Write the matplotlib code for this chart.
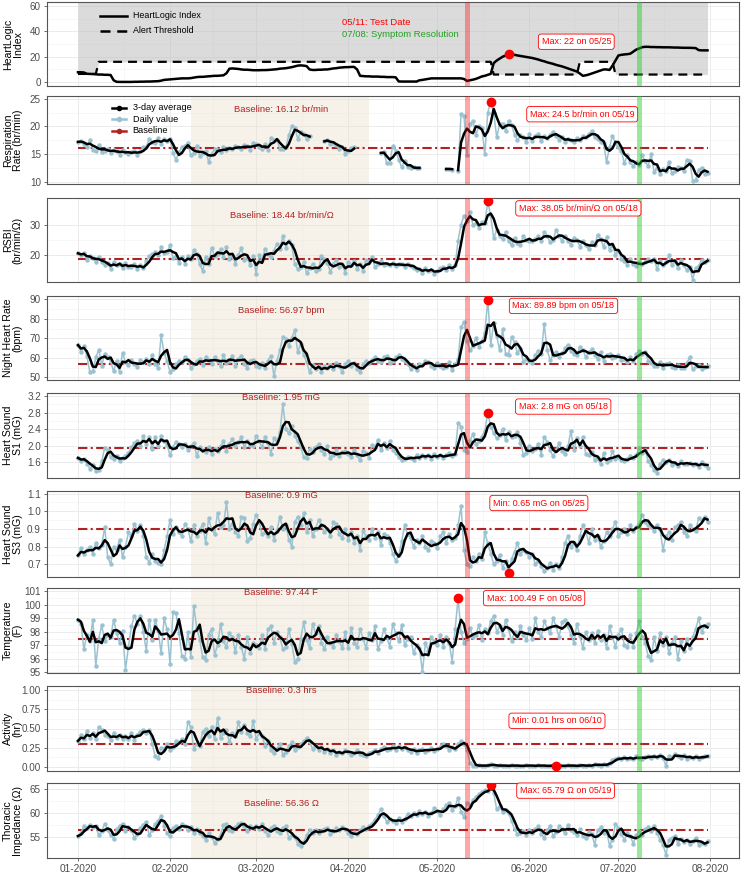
import numpy as np
import pandas as pd
import matplotlib
matplotlib.use("Agg")
import matplotlib.pyplot as plt
import matplotlib.dates as mdates
from matplotlib.lines import Line2D
from matplotlib.ticker import FixedLocator, FormatStrFormatter

plt.rcParams['font.family'] = ['Liberation Sans', 'DejaVu Sans']

# one value per day, 2020-01-01 .. 2020-07-31
dates = pd.date_range('2020-01-01', '2020-07-31', freq='D')
nan = np.nan

# HeartLogic index and alert threshold (top panel)
heartlogic = [
    7.8, 7.8, 7.6, 6.6, 6.5, 6.4, 6.2, 6.0, 6.0, 5.8, 5.8, 5.6, 1.5, 0.3, 0.2, 0.2, 0.2, 0.2, 0.2, 0.3,
    0.3, 0.4, 0.4, 0.5, 0.5, 0.6, 0.7, 0.8, 1.2, 1.8, 2.0,
    2.2, 2.4, 2.6, 2.8, 3.0, 3.0, 3.0, 3.2, 3.6, 4.0, 4.2, 4.2, 4.4, 4.6, 4.8, 5.0, 5.0, 5.2, 5.4, 7.0,
    10.6, 10.8, 10.6, 10.4, 10.0, 9.8, 9.8, 9.6, 9.4,
    9.4, 9.4, 9.5, 9.5, 9.6, 9.8, 10.0, 10.2, 10.6, 10.8, 11.0, 11.4, 11.8, 12.4, 13.0, 13.2, 13.0, 12.6,
    10.0, 9.6, 9.6, 9.8, 9.8, 10.0, 10.0, 10.4, 10.8, 11.0, 11.4, 11.6, 11.8,
    11.8, 12.0, 12.0, 10.0, 5.0, 4.8, 4.6, 4.6, 4.4, 4.4, 4.4, 4.2, 4.2, 4.0, 4.0, 4.0, 3.8, 0.6, 0.5, 0.5,
    0.5, 0.5, 0.5, 0.5, 1.5, 1.8, 2.2, 2.6, 3.0, 3.0,
    3.0, 3.0, 3.0, 3.0, 3.0, 3.0, 3.0, 3.0, 3.0, 2.5, 1.0, 1.5, 2.0, 2.6, 3.5, 4.5, 5.0, 5.8, 6.5, 15.0,
    17.0, 18.5, 20.0, 21.0, 22.0, 21.8, 21.5, 21.0, 20.6, 20.2, 19.8,
    19.4, 19.0, 18.4, 17.8, 17.0, 16.4, 15.6, 15.0, 14.4, 13.6, 13.0, 12.4, 11.6, 10.8, 10.0, 9.2, 8.4, 6.8,
    5.0, 5.4, 6.0, 6.8, 7.6, 8.4, 9.2, 10.0, 10.0, 9.6, 13.0, 17.0,
    21.0, 21.5, 21.8, 22.0, 22.4, 24.0, 25.6, 26.5, 27.5, 27.8, 27.8, 27.6, 27.6, 27.5, 27.5, 27.4, 27.4,
    27.4, 27.3, 27.2, 27.2, 27.1, 27.0, 27.0, 27.0, 26.9, 26.8, 25.2, 25.0, 25.0, 25.0,
]
threshold_levels = [6.5, 16, 6, 16, 6]
threshold_days = [7, 133, 29, 12, 32]

resp = [
    17.2, 17.3, 16.8, 16.3, 17.5, 15.8, 15.5, 16.6, 15.4, 15.6, 16.0, 15.1, 15.7, 15.6, 14.9, 15.7, 15.3,
    15.0, 15.4, 15.5, 14.9, 15.6, 16.2, 16.3, 17.8, 17.2, 17.0, 17.9, 16.8, 17.8, 17.4,
    17.8, 15.2, 14.0, 15.3, 16.3, 16.5, 17.0, 14.8, 15.2, 16.4, 14.6, 15.1, 15.6, 13.6, 15.0, 15.9, 15.7,
    15.4, 16.2, 15.8, 16.1, 15.9, 16.4, 16.3, 15.9, 16.7, 16.4, 15.8, 17.0,
    16.8, 16.2, 16.0, 16.9, 15.8, 17.9, 17.6, 17.6, 15.9, 15.9, 16.2, 18.4, 20.0, 19.8, 17.8, 18.9, 18.6,
    17.7, 18.2, nan, nan, nan, nan, 17.3, 17.6, 16.8, 17.0, 16.6, 15.9, 16.3, 15.0,
    15.6, 16.1, 16.3, nan, nan, nan, nan, nan, nan, nan, nan, 15.2, 15.3, 13.3, 13.4, 16.5, 15.5, 14.0,
    12.6, 13.8, 12.6, 12.5, 12.6, 12.4, 12.5, nan, nan, nan, nan, nan,
    nan, nan, nan, 12.3, 12.3, 12.2, nan, 12.0, 22.2, 21.8, 14.8, 20.5, 21.0, 18.5, 20.0, 19.8, 15.0,
    22.5, 24.5, 22.5, 18.0, 20.5, 20.5, 19.2, 21.0, 20.3, 18.5, 17.5, 18.4, 18.0, 17.2,
    18.6, 17.4, 18.3, 18.6, 17.3, 18.2, 17.9, 18.5, 19.0, 18.3, 17.6, 18.0, 17.2, 17.8, 17.5, 17.1, 17.9,
    17.6, 18.2, 18.0, 18.6, 19.2, 18.0, 17.8, 17.2, 17.0, 13.5, 16.3, 18.3, 17.0,
    16.2, 15.5, 13.3, 14.8, 13.5, 12.8, 13.6, 13.0, 14.8, 13.7, 12.8, 15.0, 11.8, 12.5, 11.4, 12.3, 12.0,
    13.6, 11.5, 12.0, 12.6, 12.4, 12.0, 14.0, 13.8, 10.2, 10.3, 12.2, 12.5, 11.4, 11.5,
]

rsbi = [
    20.5, 19.8, 20.6, 18.2, 19.5, 18.8, 17.6, 19.2, 17.4, 16.5, 17.3, 15.2, 17.6, 16.4, 17.0, 15.4, 17.2,
    16.0, 15.8, 16.9, 15.2, 16.4, 15.6, 17.8, 19.6, 20.2, 21.0, 19.8, 22.5, 20.6, 20.8,
    23.2, 18.8, 19.6, 17.2, 19.4, 17.0, 19.6, 18.6, 21.5, 20.4, 16.8, 14.6, 19.2, 17.0, 22.4, 19.6, 20.3,
    21.8, 19.2, 22.6, 18.6, 19.8, 17.0, 19.9, 22.2, 18.4, 19.0, 16.4, 19.6,
    13.6, 19.8, 18.4, 22.0, 20.2, 19.4, 21.4, 23.8, 22.0, 26.4, 22.4, 24.6, 23.2, 16.8, 15.2, 15.8, 17.6,
    13.8, 15.6, 16.8, 14.6, 15.2, 19.6, 18.6, 17.2, 14.2, 16.8, 18.4, 15.8, 16.6, 14.0,
    17.6, 16.4, 17.8, 15.2, 17.0, 14.6, 18.4, 17.6, 19.2, 15.8, 17.0, 17.8, 16.4, 17.0, 16.6, 17.2, 16.2,
    16.8, 17.0, 15.8, 17.0, 16.2, 15.4, 14.8, 15.2, 13.8, 15.6, 14.4, 15.0, 13.6,
    14.6, 15.4, 15.8, 14.8, 16.6, 15.2, 16.4, 24.8, 30.2, 33.2, 31.4, 34.4, 30.2, 30.6, 29.2, 31.2, 30.8,
    38.05, 33.0, 25.6, 28.4, 26.4, 25.2, 27.8, 24.6, 23.2, 25.8, 24.0, 23.4, 26.4, 25.0,
    24.8, 24.6, 25.4, 26.2, 24.6, 27.8, 26.4, 24.2, 25.0, 28.4, 26.2, 24.8, 26.4, 24.6, 23.4, 25.8, 25.0,
    22.8, 24.6, 23.2, 21.8, 24.4, 23.2, 26.8, 25.2, 22.6, 26.0, 21.6, 23.4, 20.0,
    21.4, 18.6, 17.8, 16.6, 18.6, 17.0, 16.2, 17.6, 16.8, 17.4, 18.6, 17.8, 18.6, 15.2, 18.0, 16.4, 17.4,
    19.8, 16.6, 17.8, 15.6, 18.2, 16.6, 14.8, 16.0, 11.6, 15.6, 16.2, 18.4, 17.4, 18.2,
]

night_hr = [
    66.5, 63.0, 65.8, 61.0, 52.5, 53.0, 60.2, 64.2, 56.0, 61.8, 60.4, 58.2, 53.0, 58.6, 52.8, 62.6, 57.6,
    56.2, 58.8, 57.0, 55.2, 58.8, 57.6, 59.6, 56.8, 61.6, 57.0, 54.6, 71.5, 62.4, 58.2,
    52.8, 54.2, 56.6, 58.4, 57.8, 60.2, 59.0, 54.6, 56.8, 58.2, 59.4, 56.4, 60.2, 58.8, 57.0, 60.6, 58.2,
    56.0, 61.2, 57.4, 58.6, 60.8, 56.0, 59.4, 61.0, 56.8, 55.0, 58.6, 59.0,
    56.0, 55.2, 57.4, 54.8, 58.6, 61.0, 50.5, 58.4, 64.0, 70.8, 69.6, 66.2, 70.4, 74.0, 63.0, 67.2, 61.4,
    57.8, 52.6, 56.4, 54.0, 55.8, 52.8, 55.6, 54.8, 56.2, 54.4, 57.2, 55.6, 52.6, 56.6,
    58.2, 56.0, 57.4, 54.0, 52.8, 56.8, 58.6, 57.2, 59.0, 60.6, 58.4, 57.6, 60.2, 61.0, 57.2, 58.6, 60.4,
    61.2, 59.4, 58.2, 56.6, 54.2, 55.8, 53.8, 57.0, 56.4, 58.2, 57.8, 55.6, 54.6,
    57.2, 56.0, 54.8, 55.4, 57.8, 53.6, 56.6, 59.2, 75.8, 78.5, 68.6, 63.8, 66.2, 70.4, 65.6, 68.4, 72.6,
    89.89, 66.4, 78.0, 71.2, 63.8, 74.6, 62.0, 61.4, 70.8, 68.0, 62.4, 64.6, 57.8, 59.6,
    58.2, 57.4, 61.6, 63.4, 61.8, 77.4, 64.0, 58.8, 61.4, 63.2, 60.6, 62.4, 64.8, 66.8, 63.6, 62.0, 61.4,
    65.6, 64.2, 60.2, 62.8, 64.4, 61.2, 59.4, 62.8, 58.6, 61.2, 62.0, 59.8, 60.4,
    61.4, 58.8, 59.6, 57.6, 60.2, 58.4, 62.0, 63.4, 61.8, 62.8, 58.6, 57.4, 56.0, 55.8, 57.6, 54.6, 56.8,
    57.4, 55.2, 54.8, 56.4, 55.0, 54.6, 57.2, 60.4, 54.0, 55.6, 56.2, 54.4, 55.2, 56.0,
]

s1 = [
    1.70, 1.62, 1.68, 1.56, 1.44, 1.52, 1.38, 1.40, 1.62, 1.95, 1.88, 1.72, 1.68, 1.75, 1.62, 1.70, 1.74,
    1.82, 1.96, 2.06, 2.12, 1.98, 2.24, 2.04, 2.20, 1.92, 2.22, 1.98, 2.24, 2.10, 2.02,
    1.76, 1.96, 2.08, 2.04, 1.96, 2.04, 1.90, 1.98, 2.06, 1.74, 1.96, 1.88, 1.84, 1.96, 1.80, 1.92, 1.86,
    1.98, 2.10, 1.86, 2.04, 2.16, 1.98, 2.08, 2.20, 1.96, 2.12, 2.02, 1.98,
    2.24, 2.10, 1.96, 2.22, 2.06, 1.80, 2.18, 2.10, 2.32, 3.00, 2.40, 2.30, 2.48, 2.24, 2.10, 1.96, 1.72,
    1.70, 1.92, 1.84, 1.96, 2.04, 1.88, 1.80, 1.98, 1.70, 1.78, 1.88, 1.74, 1.84, 1.86,
    1.80, 1.72, 1.90, 1.76, 1.64, 1.86, 1.82, 1.70, 2.02, 1.96, 2.14, 1.88, 2.06, 1.94, 2.10, 1.90, 1.82,
    1.72, 1.64, 1.68, 1.72, 1.70, 1.66, 1.76, 1.70, 1.78, 1.72, 1.76, 1.68, 1.80,
    1.72, 1.78, 1.70, 1.76, 1.82, 1.74, 1.80, 2.55, 2.46, 1.90, 1.84, 2.12, 2.28, 2.04, 2.10, 2.22, 2.36,
    2.80, 2.46, 2.30, 2.18, 2.26, 2.40, 2.14, 2.34, 2.20, 2.24, 2.34, 2.06, 1.78, 1.82,
    2.00, 1.86, 1.92, 2.04, 1.78, 2.22, 2.08, 1.88, 1.74, 1.90, 2.06, 1.86, 1.80, 1.98, 2.36, 1.88, 2.18,
    1.98, 2.20, 1.80, 1.76, 1.84, 1.66, 1.70, 1.54, 1.82, 1.60, 1.64, 1.86, 1.68,
    1.72, 1.64, 1.62, 1.68, 1.74, 1.70, 1.78, 1.94, 1.82, 1.90, 1.62, 1.52, 1.40, 1.34, 1.56, 1.64, 1.60,
    1.66, 1.52, 1.58, 1.50, 1.62, 1.56, 1.54, 1.58, 1.52, 1.56, 1.48, 1.60, 1.52, 1.46,
]

s3 = [
    0.75, 0.79, 0.76, 0.78, 0.80, 0.76, 0.82, 0.79, 0.81, 0.91, 0.74, 0.70, 0.80, 0.78, 0.84, 0.74, 0.80,
    0.88, 0.86, 0.93, 0.89, 0.92, 0.86, 0.74, 0.71, 0.76, 0.72, 0.71, 0.70, 0.78, 0.86,
    0.95, 0.87, 0.91, 0.88, 0.86, 0.93, 0.90, 0.83, 0.92, 0.86, 0.89, 0.93, 0.82, 0.96, 0.90, 0.87, 0.99,
    0.91, 0.92, 1.05, 0.90, 0.93, 0.88, 0.86, 0.97, 0.96, 0.83, 0.85, 0.93,
    0.98, 0.94, 0.87, 0.88, 0.86, 0.91, 0.84, 0.89, 0.97, 0.90, 0.92, 0.84, 0.80, 0.94, 0.97, 0.92, 0.99,
    0.88, 0.95, 0.86, 0.90, 0.95, 0.92, 0.88, 0.90, 0.86, 0.94, 0.93, 0.87, 0.85, 0.90,
    0.84, 0.88, 0.82, 0.86, 0.78, 0.89, 0.86, 0.84, 0.90, 0.85, 0.88, 0.81, 0.87, 0.86, 0.82, 0.76, 0.72,
    0.75, 0.83, 0.92, 0.87, 0.85, 0.80, 0.84, 0.82, 0.86, 0.80, 0.78, 0.83, 0.82,
    0.79, 0.86, 0.88, 0.82, 0.87, 0.84, 0.85, 0.92, 1.03, 0.78, 0.70, 0.69, 0.74, 0.72, 0.76, 0.73, 0.88,
    0.82, 0.76, 0.70, 0.72, 0.75, 0.68, 0.72, 0.65, 0.73, 0.77, 0.82, 0.76, 0.78, 0.77,
    0.74, 0.76, 0.70, 0.72, 0.69, 0.66, 0.68, 0.71, 0.67, 0.70, 0.68, 0.74, 0.82, 0.86, 0.80, 0.82, 0.78,
    0.86, 0.92, 0.89, 0.82, 0.90, 0.84, 0.86, 0.80, 0.83, 0.88, 0.86, 0.90, 0.94,
    0.86, 0.88, 0.90, 0.87, 0.92, 0.89, 0.91, 0.93, 0.98, 0.94, 0.92, 0.91, 0.89, 0.92, 0.90, 0.78, 0.86,
    0.88, 0.84, 0.91, 0.92, 0.94, 0.88, 0.86, 0.92, 0.90, 0.89, 0.96, 0.95, 0.97, 0.94,
]

temperature = [
    98.9, 98.6, 96.7, 97.8, 97.3, 98.9, 95.5, 97.5, 98.5, 97.3, 97.8, 97.6, 98.9, 97.9, 97.2, 98.1, 95.2,
    96.9, 98.4, 99.2, 98.6, 99.2, 98.0, 96.6, 98.9, 97.4, 98.9, 98.1, 96.4, 99.0, 98.2,
    95.6, 99.5, 99.4, 97.9, 96.2, 96.0, 98.0, 96.1, 99.9, 98.3, 97.4, 96.1, 95.9, 97.8, 98.2, 96.3, 97.0,
    98.6, 97.3, 96.9, 97.9, 97.6, 96.5, 97.8, 96.9, 96.0, 97.6, 96.4, 97.2,
    97.0, 96.8, 97.8, 96.7, 98.2, 98.4, 97.2, 98.0, 97.6, 96.7, 96.9, 98.2, 97.1, 95.8, 96.0, 97.5, 98.7,
    97.4, 96.8, 98.6, 97.9, 98.4, 97.2, 96.7, 97.6, 97.2, 96.9, 97.8, 97.3, 96.8, 98.0,
    96.8, 98.3, 97.2, 96.9, 98.2, 97.5, 96.8, 97.9, 97.4, 98.4, 96.7, 97.3, 98.2, 97.6, 96.9, 98.6, 97.9,
    97.3, 98.5, 97.0, 97.5, 97.6, 96.4, 97.0, 96.8, 95.0, 97.2, 96.6, 97.6, 97.3,
    97.0, 97.8, 96.9, 97.6, 97.2, 95.8, 98.2, 100.49, 98.0, 97.2, 97.5, 98.3, 97.6, 97.8, 98.5, 97.4, 98.2,
    97.9, 98.8, 99.2, 98.0, 98.4, 97.8, 98.9, 98.2, 97.3, 98.0, 97.6, 98.4, 97.8, 97.4,
    98.3, 97.5, 99.0, 98.0, 97.6, 98.8, 98.3, 97.9, 99.0, 98.4, 97.6, 98.7, 98.9, 98.4, 97.8, 97.2, 98.6,
    97.7, 96.8, 98.0, 97.4, 97.9, 97.2, 98.1, 97.4, 97.8, 96.8, 98.4, 97.6, 96.9,
    97.8, 98.2, 97.0, 96.9, 97.8, 96.9, 97.9, 98.8, 97.6, 97.2, 96.2, 95.9, 97.6, 96.6, 97.9, 97.0, 97.6,
    96.4, 97.2, 97.6, 96.0, 97.3, 96.6, 97.5, 96.8, 97.6, 98.2, 99.0, 98.0, 98.4, 98.6,
]

activity = [
    0.34, 0.42, 0.36, 0.47, 0.38, 0.44, 0.36, 0.52, 0.48, 0.42, 0.40, 0.35, 0.44, 0.38, 0.42, 0.36, 0.40,
    0.37, 0.44, 0.35, 0.42, 0.46, 0.48, 0.44, 0.48, 0.30, 0.14, 0.12, 0.25, 0.24, 0.30,
    0.22, 0.26, 0.34, 0.32, 0.36, 0.30, 0.58, 0.52, 0.24, 0.30, 0.28, 0.46, 0.50, 0.40, 0.52, 0.36, 0.64,
    0.38, 0.44, 0.48, 0.32, 0.44, 0.40, 0.58, 0.46, 0.54, 0.44, 0.40, 0.60,
    0.36, 0.44, 0.40, 0.28, 0.34, 0.22, 0.18, 0.24, 0.30, 0.16, 0.20, 0.28, 0.32, 0.22, 0.26, 0.30, 0.34,
    0.38, 0.32, 0.24, 0.28, 0.22, 0.26, 0.20, 0.24, 0.18, 0.22, 0.16, 0.20, 0.18, 0.22,
    0.20, 0.16, 0.18, 0.22, 0.17, 0.16, 0.14, 0.18, 0.20, 0.22, 0.18, 0.24, 0.26, 0.22, 0.24, 0.28, 0.22,
    0.27, 0.24, 0.26, 0.22, 0.20, 0.24, 0.18, 0.22, 0.24, 0.20, 0.22, 0.25, 0.21,
    0.24, 0.26, 0.30, 0.28, 0.22, 0.26, 0.24, 0.30, 0.34, 0.30, 0.22, 0.06, 0.02, 0.01, 0.03, 0.02, 0.01,
    0.03, 0.04, 0.02, 0.01, 0.03, 0.02, 0.01, 0.02, 0.03, 0.01, 0.02, 0.02, 0.01, 0.03,
    0.02, 0.01, 0.02, 0.03, 0.01, 0.02, 0.02, 0.01, 0.03, 0.01, 0.02, 0.02, 0.01, 0.03, 0.02, 0.01, 0.02,
    0.03, 0.02, 0.01, 0.03, 0.02, 0.04, 0.03, 0.02, 0.04, 0.03, 0.06, 0.09, 0.11,
    0.12, 0.10, 0.13, 0.11, 0.12, 0.10, 0.14, 0.12, 0.11, 0.13, 0.15, 0.12, 0.14, 0.13, 0.16, 0.12, 0.02,
    0.15, 0.13, 0.17, 0.14, 0.12, 0.16, 0.11, 0.13, 0.12, 0.14, 0.11, 0.13, 0.15, 0.14,
]

impedance = [
    55.2, 55.8, 57.4, 56.8, 57.6, 57.0, 57.2, 55.4, 56.2, 57.8, 56.4, 55.4, 54.6, 56.6, 57.4, 57.8, 56.2,
    57.0, 56.4, 54.8, 55.6, 56.8, 57.6, 58.2, 55.4, 56.4, 57.8, 58.4, 59.4, 57.2, 55.8,
    55.2, 56.8, 57.4, 56.6, 57.8, 57.2, 56.4, 57.0, 55.8, 56.6, 55.8, 55.2, 54.4, 55.8, 55.0, 53.8, 54.6,
    55.4, 57.6, 57.8, 56.4, 56.2, 57.0, 57.8, 58.0, 57.4, 56.2, 57.2, 56.8,
    57.4, 56.6, 57.8, 56.2, 55.4, 56.8, 57.4, 56.2, 55.8, 56.8, 57.2, 54.8, 55.4, 55.0, 53.6, 53.2, 54.0,
    55.4, 56.4, 55.8, 56.4, 55.8, 56.2, 56.6, 56.8, 55.6, 56.2, 56.8, 56.4, 57.0, 56.6,
    55.8, 55.2, 56.0, 55.6, 56.4, 57.0, 56.6, 57.2, 57.8, 58.6, 59.6, 60.8, 59.4, 58.2, 58.8, 58.4, 58.0,
    59.0, 58.2, 58.8, 59.8, 59.4, 60.0, 59.6, 60.4, 59.8, 60.2, 59.4, 60.0, 61.0,
    60.4, 59.6, 60.8, 61.6, 62.2, 60.6, 61.4, 63.2, 60.2, 59.2, 62.2, 61.6, 62.8, 63.4, 64.0, 64.4, 64.8,
    64.6, 65.79, 64.2, 60.8, 61.4, 60.2, 60.6, 60.0, 58.4, 56.6, 55.6, 55.8, 56.2, 55.4,
    56.4, 55.8, 56.6, 57.2, 55.6, 54.8, 56.4, 57.4, 55.2, 56.0, 57.2, 56.6, 55.8, 57.6, 56.4, 56.0, 55.4,
    56.6, 55.2, 54.8, 56.0, 55.6, 53.4, 56.4, 57.0, 55.8, 56.2, 53.2, 54.4, 57.8,
    56.8, 55.6, 54.4, 55.8, 55.2, 53.6, 55.4, 56.2, 55.4, 56.6, 57.0, 56.2, 57.4, 55.8, 54.4, 53.4, 51.3,
    54.4, 54.8, 55.2, 53.6, 54.6, 54.0, 54.4, 53.6, 54.2, 54.8, 53.4, 53.8, 53.6, 54.2,
]

# baselines, extremes, labels
baselines = [16.12, 18.44, 56.97, 1.95, 0.9, 97.44, 0.3, 56.36]
baseline_units = ['br/min', 'br/min/Ω', 'bpm', 'mG', 'mG', 'F', 'hrs', 'Ω']
extreme_dates = ['2020-05-19', '2020-05-18', '2020-05-18', '2020-05-18', '2020-05-25', '2020-05-08',
                 '2020-06-10', '2020-05-19']
extreme_values = [24.5, 38.05, 89.89, 2.8, 0.65, 100.49, 0.01, 65.79]
extreme_kind = ['Max', 'Max', 'Max', 'Max', 'Min', 'Max', 'Min', 'Max']
ylabels = ['Respiration\nRate (br/min)', 'RSBI\n(br/min/Ω)', 'Night Heart Rate\n(bpm)',
           'Heart Sound\nS1 (mG)', 'Heart Sound\nS3 (mG)', 'Temperature\n(F)', 'Activity\n(hr)',
           'Thoracic\nImpedance (Ω)']
series = [resp, rsbi, night_hr, s1, s3, temperature, activity, impedance]

test_date = pd.Timestamp('2020-05-11')
resolution_date = pd.Timestamp('2020-07-08')
baseline_start = pd.Timestamp('2020-02-08')
baseline_end = pd.Timestamp('2020-04-08')

# ---- layout ----
W, H = 742, 876
fig = plt.figure(figsize=(W / 100, H / 100), dpi=100)
x_left, x_right = 46.5, 739
panels_px = [(2, 86), (96, 184), (198, 282), (296, 380), (393, 478), (491, 577), (588, 673),
             (686, 771), (783, 858)]
ylims = [(-3, 63), (9.58, 25.5), (10.8, 39.2), (48.6, 91.7), (1.21, 3.28), (0.628, 1.115),
         (94.95, 101.25), (-0.05, 1.05), (50.6, 66.3)]
yticks = [[0, 20, 40, 60], [10, 15, 20, 25], [20, 30], [50, 60, 70, 80, 90], [1.6, 2.0, 2.4, 2.8, 3.2],
          [0.7, 0.8, 0.9, 1.0, 1.1], [95, 96, 97, 98, 99, 100, 101], [0.0, 0.25, 0.5, 0.75, 1.0],
          [55, 60, 65]]
yfmts = ['%d', '%d', '%d', '%d', '%.1f', '%.1f', '%d', '%.2f', '%d']

# label positions (day offset from 01-01, value)
baseline_text_y = [23.0, 33.4, 84.5, 3.17, 1.09, 100.9, 0.99, 62.1]
box_pos = [(169.8, 22.2), (168.5, 35.7), (163.5, 86.6), (163.4, 2.95), (155.2, 1.047), (153.6, 100.5),
           (161.3, 0.6), (164.2, 64.7)]

BLUE = '#9BC2D1'
FIREBRICK = '#B22222'
pad = pd.Timedelta(days=10.6)
month_starts = pd.date_range('2020-01-01', '2020-08-01', freq='MS')
minor_ticks = [month_starts[i] + (month_starts[i + 1] - month_starts[i]) / 2 for i in range(len(month_starts) - 1)]
start = dates[0]
YLAB_X = 13.0


def px2fig(x, y):
    return x / W, 1 - y / H


axes = []
for i, (top, bot) in enumerate(panels_px):
    ax = fig.add_axes([x_left / W, 1 - bot / H, (x_right - x_left) / W, (bot - top) / H])
    ax.set_xlim(dates[0] - pad, dates[-1] + pad)
    ax.set_ylim(*ylims[i])
    ax.yaxis.set_major_locator(FixedLocator(yticks[i]))
    ax.yaxis.set_major_formatter(FormatStrFormatter(yfmts[i]))
    mids = [(a + b) / 2 for a, b in zip(yticks[i][:-1], yticks[i][1:])]
    ax.yaxis.set_minor_locator(FixedLocator(mids))
    ax.xaxis.set_major_locator(FixedLocator(mdates.date2num(month_starts)))
    ax.xaxis.set_minor_locator(FixedLocator(mdates.date2num(minor_ticks)))
    ax.xaxis.set_major_formatter(mdates.DateFormatter('%m-%Y'))
    ax.grid(which='major', color='#EBEBEB', lw=0.7)
    ax.grid(which='minor', color='#F2F2F2', lw=0.4)
    ax.set_axisbelow(True)
    for sp in ax.spines.values():
        sp.set_color('#555555')
        sp.set_linewidth(0.8)
    ax.tick_params(axis='y', which='major', labelsize=7.1, labelcolor='#4D4D4D', color='#555555',
                   length=2.5, width=0.6, pad=1.5)
    ax.tick_params(which='minor', length=0)
    if i < 8:
        ax.tick_params(axis='x', which='major', length=0, labelbottom=False)
    else:
        ax.tick_params(axis='x', which='major', labelsize=7.3, labelcolor='#4D4D4D', color='#555555',
                       length=2.5, width=0.6, pad=1.5)
    ax.axvline(test_date, color='red', alpha=0.35, lw=3.6, zorder=5)
    ax.axvline(resolution_date, color='#22CC22', alpha=0.45, lw=3.6, zorder=5)
    axes.append(ax)

# ---- top panel: HeartLogic index ----
ax = axes[0]
threshold = np.repeat(threshold_levels, threshold_days)
ax.fill_between(dates, threshold, 63, color='#BEBEBE', alpha=0.55, lw=0, zorder=1)
ax.plot(dates, threshold, color='black', lw=1.6, dashes=(4, 2.7), zorder=3)
ax.plot(dates, heartlogic, color='black', lw=1.8, zorder=4, solid_joinstyle='round')
ax.plot(pd.Timestamp('2020-05-25'), 22, 'o', color='red', ms=6, zorder=6)
ax.text(start + pd.Timedelta(days=167.8), 31.8, 'Max: 22 on 05/25', ha='center', va='center', color='red',
        fontsize=6.5, zorder=7,
        bbox=dict(boxstyle='round,pad=0.35,rounding_size=0.3', fc='white', ec='red', lw=0.6))
ax.text(start + pd.Timedelta(days=89), 46.7, '05/11: Test Date', color='red', fontsize=6.8, va='center')
ax.text(start + pd.Timedelta(days=89), 37.6, '07/08: Symptom Resolution', color='#22A022', fontsize=6.8,
        va='center')
fig.text(YLAB_X / W, 1 - 44 / H, 'HeartLogic\nIndex', rotation=90, ha='center', va='center', fontsize=7.6,
         linespacing=0.95)

# manual legend, top panel
for y, dash in [(15.7, None), (30.7, (4, 2.7))]:
    (xa, ya), (xb, _) = px2fig(100, y), px2fig(127, y)
    ln = Line2D([xa, xb], [ya, ya], transform=fig.transFigure, color='black', lw=1.8)
    if dash:
        ln.set_dashes(dash)
    fig.add_artist(ln)
for y, lab in [(15.7, 'HeartLogic Index'), (30.7, 'Alert Threshold')]:
    fig.text(*px2fig(132.7, y), lab, fontsize=6.4, va='center')

# ---- sensor panels ----
for k in range(8):
    ax = axes[k + 1]
    daily = pd.Series(series[k], index=dates)
    avg = daily.rolling(3, min_periods=1).mean()
    avg[daily.isna()] = np.nan
    ax.axvspan(baseline_start, baseline_end, color='#EEE3D0', alpha=0.45, lw=0, zorder=1)
    ax.plot(dates, [baselines[k]] * len(dates), color=FIREBRICK, lw=1.5, dashes=(4.5, 1.6, 1, 1.6), zorder=2)
    ax.plot(dates, daily.values, color=BLUE, lw=1.1, marker='o', ms=3.2, mew=0, zorder=3)
    ax.plot(dates, avg.values, color='black', lw=1.8, zorder=4, solid_joinstyle='round')
    ax.plot(pd.Timestamp(extreme_dates[k]), extreme_values[k], 'o', color='red', ms=6, zorder=6)
    d = pd.Timestamp(extreme_dates[k])
    label = f"{extreme_kind[k]}: {extreme_values[k]:g} {baseline_units[k]} on {d:%m/%d}"
    bx, by = box_pos[k]
    ax.text(start + pd.Timedelta(days=bx), by, label, ha='center', va='center', color='red', fontsize=6.5,
            zorder=7, bbox=dict(boxstyle='round,pad=0.35,rounding_size=0.3', fc='white', ec='red', lw=0.6))
    ax.text(start + pd.Timedelta(days=68.5), baseline_text_y[k], f"Baseline: {baselines[k]:g} {baseline_units[k]}",
            ha='center', va='center', color=FIREBRICK, fontsize=6.8, zorder=7)
    top, bot = panels_px[k + 1]
    fig.text(YLAB_X / W, 1 - (top + bot) / 2 / H, ylabels[k], rotation=90, ha='center', va='center',
             fontsize=7.6, linespacing=0.95)

# manual legend, respiration panel
legend_rows = [(107.7, 'black', '3-day average'), (119.0, BLUE, 'Daily value'), (130.7, FIREBRICK, 'Baseline')]
for y, c, lab in legend_rows:
    (xa, ya), (xb, _) = px2fig(112, y), px2fig(126, y)
    fig.add_artist(Line2D([xa, xb], [ya, ya], transform=fig.transFigure, color=c, lw=1.8))
    fig.add_artist(Line2D([(xa + xb) / 2], [ya], transform=fig.transFigure, color=c, marker='o', ms=4, mew=0))
    fig.text(*px2fig(132.7, y), lab, fontsize=6.6, va='center')

fig.savefig('out.png', dpi=100)
